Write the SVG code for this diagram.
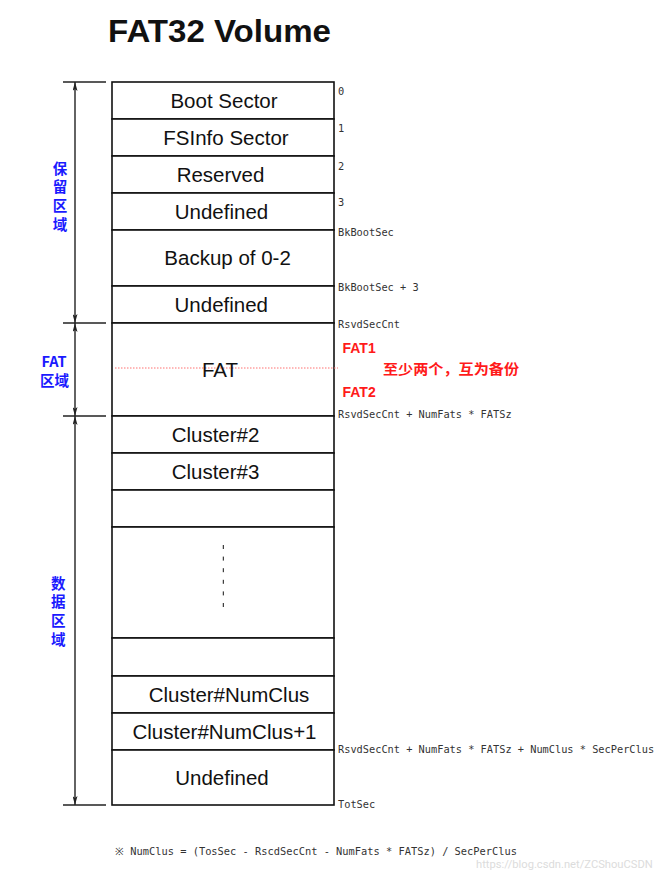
<svg xmlns="http://www.w3.org/2000/svg" width="660" height="872" viewBox="0 0 660 872">
<defs>
<marker id="arr" markerUnits="userSpaceOnUse" viewBox="0 0 9 5" markerWidth="9" markerHeight="5" refX="9" refY="2.5" orient="auto-start-reverse">
<path d="M0,0 L9,2.5 L0,5 L2,2.5 z" fill="#222"/>
</marker>
<style>
.row{fill:#fff;stroke:#111;stroke-width:1.6}
.lbl{font-family:"Liberation Sans",Arial,sans-serif;font-size:20.5px;fill:#111;text-anchor:middle}
.mono{font-family:"DejaVu Sans Mono","Liberation Mono",monospace;font-size:10.3px;fill:#333}
.cn{font-family:"Noto Sans CJK SC","Liberation Sans",sans-serif;font-weight:bold;font-size:14.5px;fill:#1a1aff;text-anchor:middle}
.cnv{font-family:"Noto Sans CJK SC",sans-serif;font-weight:bold;font-size:14.5px;fill:#1a1aff;writing-mode:vertical-rl;letter-spacing:4.2px}
.red{font-family:"Liberation Sans","Noto Sans CJK SC",sans-serif;font-weight:bold;font-size:14px;fill:#ff1a1a}
.dim{stroke:#222;stroke-width:1.4;fill:none}
.tick{stroke:#222;stroke-width:1.3}
</style>
</defs>
<rect width="660" height="872" fill="#fff"/>
<text x="108" y="42" font-family="Liberation Sans,Arial,sans-serif" font-weight="bold" font-size="32" fill="#111" textLength="223" lengthAdjust="spacingAndGlyphs">FAT32 Volume</text>

<g id="boot"><rect class="row" x="112" y="82" width="222" height="37"/><text class="lbl" x="224" y="108">Boot Sector</text></g>
<g id="fsinfo"><rect class="row" x="112" y="119" width="222" height="37"/><text class="lbl" x="226" y="145">FSInfo Sector</text></g>
<g id="reserved"><rect class="row" x="112" y="156" width="222" height="37"/><text class="lbl" x="220.5" y="182">Reserved</text></g>
<g id="undef1"><rect class="row" x="112" y="193" width="222" height="37"/><text class="lbl" x="221.5" y="219">Undefined</text></g>
<g id="backup"><rect class="row" x="112" y="230" width="222" height="56"/><text class="lbl" x="227.6" y="265">Backup of 0-2</text></g>
<g id="undef2"><rect class="row" x="112" y="286" width="222" height="37"/><text class="lbl" x="221.3" y="312">Undefined</text></g>
<g id="fat"><rect class="row" x="112" y="323" width="222" height="93"/>
<line x1="115" y1="368" x2="338" y2="368" stroke="#ff7070" stroke-width="1" stroke-dasharray="1.5 1.5"/>
<text class="lbl" x="220" y="377">FAT</text></g>
<g id="cluster2"><rect class="row" x="112" y="416" width="222" height="37"/><text class="lbl" x="215.5" y="442">Cluster#2</text></g>
<g id="cluster3"><rect class="row" x="112" y="453" width="222" height="37"/><text class="lbl" x="215.5" y="479">Cluster#3</text></g>
<g id="blank1"><rect class="row" x="112" y="490" width="222" height="37"/></g>
<g id="dots"><rect class="row" x="112" y="527" width="222" height="111"/>
<line x1="223.3" y1="545" x2="223.3" y2="612" stroke="#111" stroke-width="1" stroke-dasharray="4 7.6"/></g>
<g id="blank2"><rect class="row" x="112" y="638" width="222" height="38"/></g>
<g id="clusterN"><rect class="row" x="112" y="676" width="222" height="37"/><text class="lbl" x="229" y="702">Cluster#NumClus</text></g>
<g id="clusterN1"><rect class="row" x="112" y="713" width="222" height="37"/><text class="lbl" x="224.5" y="739">Cluster#NumClus+1</text></g>
<g id="undef3"><rect class="row" x="112" y="750" width="222" height="55"/><text class="lbl" x="222" y="785">Undefined</text></g>

<g id="offsets">
<text class="mono" x="338" y="95">0</text>
<text class="mono" x="338" y="132">1</text>
<text class="mono" x="338" y="170">2</text>
<text class="mono" x="338" y="206">3</text>
<text class="mono" x="338" y="236">BkBootSec</text>
<text class="mono" x="338" y="291">BkBootSec + 3</text>
<text class="mono" x="338" y="328">RsvdSecCnt</text>
<text class="mono" x="338" y="418">RsvdSecCnt + NumFats * FATSz</text>
<text class="mono" x="338" y="753">RsvdSecCnt + NumFats * FATSz + NumClus * SecPerClus</text>
<text class="mono" x="338" y="808">TotSec</text>
</g>

<g id="fatnote">
<text class="red" x="342.5" y="353">FAT1</text>
<text class="red" x="383" y="374" font-size="14.5" textLength="136" lengthAdjust="spacingAndGlyphs">至少两个，互为备份</text>
<text class="red" x="342.5" y="397">FAT2</text>
</g>

<g id="regions">
<text class="cnv" x="60" y="161">保留区域</text>
<text class="cn" x="54" y="367">FAT</text>
<text class="cn" x="54.5" y="386">区域</text>
<text class="cnv" x="58.3" y="576">数据区域</text>
</g>

<g id="connectors">
<line class="tick" x1="63" y1="82" x2="106" y2="82"/>
<line class="tick" x1="63" y1="323" x2="106" y2="323"/>
<line class="tick" x1="63" y1="416" x2="106" y2="416" stroke="#777"/>
<line class="tick" x1="63" y1="805" x2="106" y2="805"/>
<line class="dim" x1="75" y1="82" x2="75" y2="323" marker-start="url(#arr)" marker-end="url(#arr)"/>
<line class="dim" x1="75" y1="323" x2="75" y2="416" marker-start="url(#arr)" marker-end="url(#arr)"/>
<line class="dim" x1="75" y1="416" x2="75" y2="805" marker-start="url(#arr)" marker-end="url(#arr)"/>
</g>

<text class="mono" x="115" y="855" textLength="402" lengthAdjust="spacingAndGlyphs">※ NumClus = (TosSec - RscdSecCnt - NumFats * FATSz) / SecPerClus</text>
<text x="476" y="868" font-family="Roboto,'Liberation Sans',sans-serif" font-size="11.2" fill="#dcdcdc">https://blog.csdn.net/ZCShouCSDN</text>
</svg>
